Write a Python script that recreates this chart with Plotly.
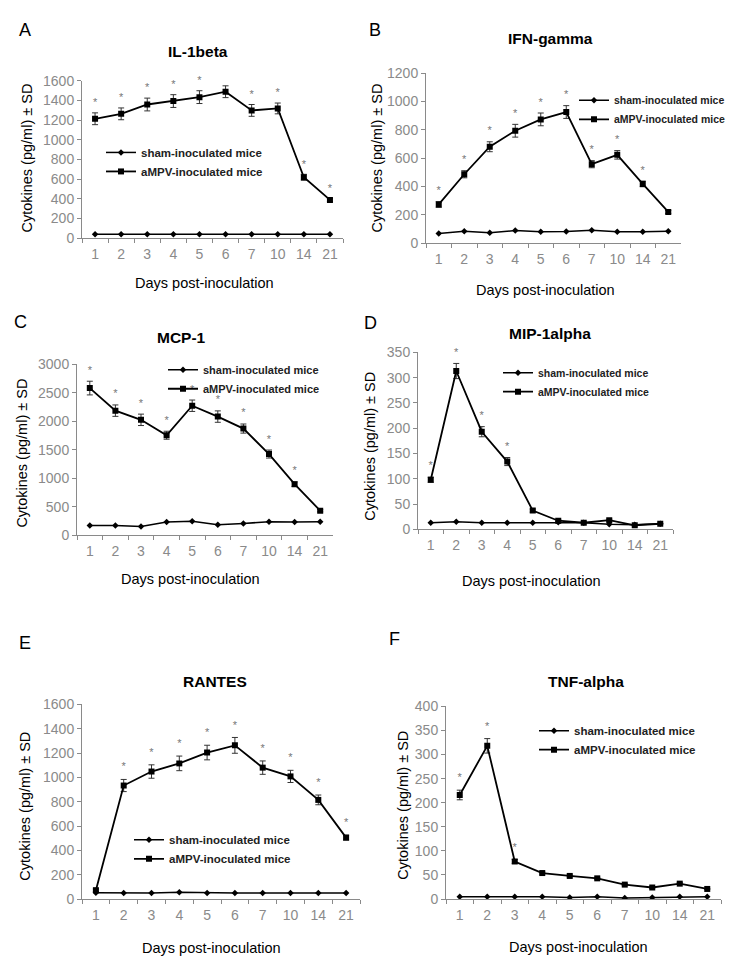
import plotly.graph_objects as go

W, H = 735, 962

days = ["1", "2", "3", "4", "5", "6", "7", "10", "14", "21"]
series_names = ["sham-inoculated mice", "aMPV-inoculated mice"]

il1b_sham = [40, 40, 40, 40, 40, 40, 40, 40, 40, 40]
il1b_ampv = [1215, 1265, 1360, 1395, 1435, 1490, 1300, 1320, 620, 390]
il1b_sd = [60, 60, 65, 65, 65, 60, 60, 55, 30, 15]
il1b_sig = [1, 1, 1, 1, 1, 1, 1, 1, 1, 1]

ifng_sham = [68, 84, 73, 89, 80, 82, 91, 80, 80, 84]
ifng_ampv = [273, 486, 680, 793, 873, 925, 557, 623, 418, 220]
ifng_sd = [20, 25, 35, 45, 45, 45, 25, 30, 20, 10]
ifng_sig = [1, 1, 1, 1, 1, 1, 1, 1, 1, 0]

mcp1_sham = [172, 172, 155, 230, 247, 184, 207, 235, 230, 235]
mcp1_ampv = [2580, 2184, 2023, 1753, 2270, 2080, 1870, 1423, 895, 430]
mcp1_sd = [120, 100, 100, 70, 100, 100, 80, 70, 40, 20]
mcp1_sig = [1, 1, 1, 1, 1, 1, 1, 1, 1, 0]

mip1a_sham = [13, 15, 13, 13, 13, 14, 13, 10, 9, 11]
mip1a_ampv = [98, 313, 193, 134, 37, 17, 13, 18, 8, 11]
mip1a_sd = [5, 15, 10, 8, 3, 2, 2, 2, 1, 1]
mip1a_sig = [1, 1, 1, 1, 0, 0, 0, 0, 0, 0]

rantes_sham = [51, 50, 50, 55, 50, 50, 50, 50, 50, 50]
rantes_ampv = [73, 933, 1048, 1115, 1204, 1263, 1080, 1008, 815, 505]
rantes_sd = [10, 50, 55, 60, 60, 65, 55, 50, 40, 20]
rantes_sig = [0, 1, 1, 1, 1, 1, 1, 1, 1, 1]

tnfa_sham = [5, 5, 5, 5, 3, 5, 2, 3, 5, 5]
tnfa_ampv = [216, 318, 78, 54, 48, 43, 30, 24, 32, 21]
tnfa_sd = [10, 15, 4, 2, 2, 2, 2, 2, 2, 1]
tnfa_sig = [1, 1, 1, 0, 0, 0, 0, 0, 0, 0]

titles = ["IL-1beta", "IFN-gamma", "MCP-1", "MIP-1alpha", "RANTES", "TNF-alpha"]
letters = ["A", "B", "C", "D", "E", "F"]
y_max = [1600, 1200, 3000, 350, 1600, 400]
y_step = [200, 200, 500, 50, 200, 50]

data = [
    (il1b_sham, il1b_ampv, il1b_sd, il1b_sig),
    (ifng_sham, ifng_ampv, ifng_sd, ifng_sig),
    (mcp1_sham, mcp1_ampv, mcp1_sd, mcp1_sig),
    (mip1a_sham, mip1a_ampv, mip1a_sd, mip1a_sig),
    (rantes_sham, rantes_ampv, rantes_sd, rantes_sig),
    (tnfa_sham, tnfa_ampv, tnfa_sd, tnfa_sig),
]

# pixel geometry: (x_left, x_right, y_top(max), y_bottom(0))
boxes = [
    (74, 335, 66, 226),
    (418, 673, 58, 231),
    (69, 325, 354, 528),
    (410, 665, 342, 522),
    (74, 352, 700, 898),
    (438, 713, 702, 898),
]
title_pos = [(190, 36), (542, 23), (173, 327), (542, 323), (207, 677), (578, 677)]
letter_pos = [(17, 14), (367, 14), (12, 311), (362, 312), (17, 638), (386, 634)]
ytitle_pos = [(19, 145), (369, 145), (14, 445), (362, 438), (17, 804), (395, 803)]
xtitle_pos = [(197, 272), (537, 279), (182, 573), (523, 575), (203, 948), (570, 947)]
legend_pos = [(93, 124), (566, 71), (155, 345), (490, 348), (121, 823), (526, 712)]
legend_size = [11.5, 10.5, 11, 10.5, 11.5, 11.5]

FONT = "Liberation Sans, Arial, sans-serif"
GRAY = "#8a8a8a"

fig = go.Figure()
layout = dict(
    width=W, height=H,
    margin=dict(l=0, r=0, t=0, b=0),
    paper_bgcolor="white", plot_bgcolor="white",
    font=dict(family=FONT, color="black"),
    annotations=[],
)

for i in range(6):
    n = i + 1
    xa = "x" if n == 1 else f"x{n}"
    ya = "y" if n == 1 else f"y{n}"
    lg = "legend" if n == 1 else f"legend{n}"
    sham, ampv, sd, sig = data[i]
    x0, x1, yt, yb = boxes[i]

    fig.add_trace(go.Scatter(
        x=days, y=sham, xaxis=xa, yaxis=ya, name=series_names[0], legend=lg,
        mode="lines+markers", line=dict(color="black", width=1.5),
        marker=dict(symbol="diamond", size=5, color="black"),
    ))
    fig.add_trace(go.Scatter(
        x=days, y=ampv, xaxis=xa, yaxis=ya, name=series_names[1], legend=lg,
        mode="lines+markers", line=dict(color="black", width=1.8),
        marker=dict(symbol="square", size=6, color="black"),
        error_y=dict(type="data", array=sd, visible=True, color="#333333", thickness=1, width=3),
    ))
    sx = [d for d, s in zip(days, sig) if s]
    sy = [a + e + y_max[i] * 0.06 for a, e, s in zip(ampv, sd, sig) if s]
    fig.add_trace(go.Scatter(
        x=sx, y=sy, xaxis=xa, yaxis=ya, mode="text", text=["*"] * len(sx),
        textposition="middle center", textfont=dict(size=11, color="#777777"),
        showlegend=False, hoverinfo="skip", cliponaxis=False,
    ))

    layout[f"xaxis{'' if n == 1 else n}"] = dict(
        domain=[x0 / W, x1 / W], anchor=ya, type="category",
        categoryorder="array", categoryarray=days, range=[-0.5, 9.5],
        showline=True, linecolor=GRAY, linewidth=1, showgrid=False, zeroline=False,
        ticks="outside", tickson="boundaries", ticklen=4, tickcolor=GRAY,
        tickfont=dict(size=14, color=GRAY, family=FONT), ticklabelstandoff=3,
    )
    layout[f"yaxis{'' if n == 1 else n}"] = dict(
        domain=[1 - yb / H, 1 - yt / H], anchor=xa, range=[0, y_max[i]],
        dtick=y_step[i], tick0=0,
        showline=True, linecolor=GRAY, linewidth=1, showgrid=False, zeroline=False,
        ticks="outside", ticklen=4, tickcolor=GRAY,
        tickfont=dict(size=14, color=GRAY, family=FONT),
    )
    lx, ly = legend_pos[i]
    layout[lg] = dict(
        x=lx / W, y=1 - ly / H, xanchor="left", yanchor="top",
        bgcolor="rgba(0,0,0,0)", borderwidth=0, itemwidth=30,
        font=dict(size=legend_size[i], color="#222222", family=FONT, weight="bold"),
        tracegroupgap=0,
    )

    tx, ty = title_pos[i]
    layout["annotations"].append(dict(
        text=f"<b>{titles[i]}</b>", x=tx / W, y=1 - ty / H, xref="paper", yref="paper",
        showarrow=False, font=dict(size=15.5, color="black"), xanchor="center", yanchor="middle"))
    lx2, ly2 = letter_pos[i]
    layout["annotations"].append(dict(
        text=letters[i], x=lx2 / W, y=1 - ly2 / H, xref="paper", yref="paper",
        showarrow=False, font=dict(size=18, color="black"), xanchor="center", yanchor="middle"))
    yx, yy = ytitle_pos[i]
    layout["annotations"].append(dict(
        text="Cytokines (pg/ml) ± SD", x=yx / W, y=1 - yy / H, xref="paper", yref="paper",
        showarrow=False, textangle=-90, font=dict(size=14.5, color="black"),
        xanchor="center", yanchor="middle"))
    xx, xy = xtitle_pos[i]
    layout["annotations"].append(dict(
        text="Days post-inoculation", x=xx / W, y=1 - xy / H, xref="paper", yref="paper",
        showarrow=False, font=dict(size=14.5, color="black"), xanchor="center", yanchor="middle"))

fig.update_layout(**layout)
fig.write_html("out.html")
